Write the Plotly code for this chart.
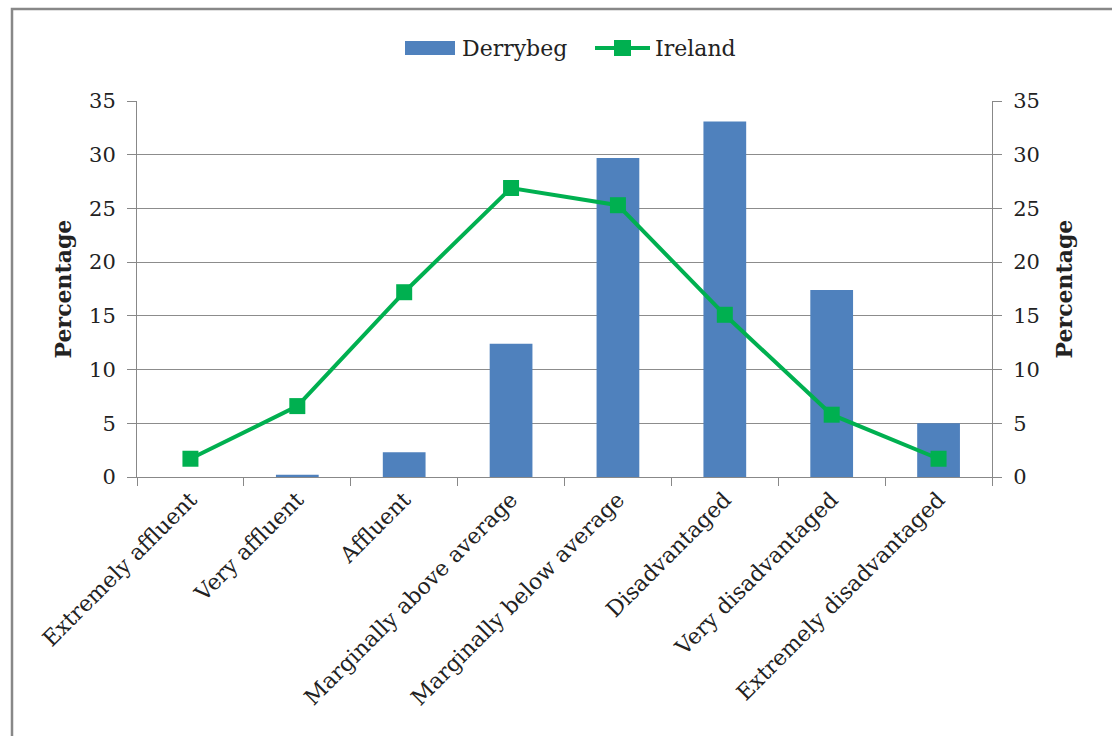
import plotly.graph_objects as go

categories = ["Extremely affluent", "Very affluent", "Affluent", "Marginally above average",
              "Marginally below average", "Disadvantaged", "Very disadvantaged",
              "Extremely disadvantaged"]
derrybeg = [0.0, 0.2, 2.3, 12.4, 29.7, 33.1, 17.4, 5.0]
ireland = [1.7, 6.6, 17.2, 26.9, 25.3, 15.1, 5.8, 1.7]
y_ticks = [0, 5, 10, 15, 20, 25, 30, 35]
series_names = ["Derrybeg", "Ireland"]

FONT = "DejaVu Serif"
BLUE, GREEN = "#4F81BD", "#00B050"
W, H = 1112, 736
L, R, T, B = 137, 120, 101, 259
pw, ph = W - L - R, H - T - B

def px(x):
    return (x - L) / pw

def py(y):
    return (H - B - y) / ph

fig = go.Figure()
fig.add_trace(go.Bar(x=categories, y=derrybeg, name=series_names[0], showlegend=False,
                     marker=dict(color=BLUE, line=dict(width=0))))
fig.add_trace(go.Scatter(x=categories, y=ireland, name=series_names[1], yaxis="y2",
                         mode="lines+markers", showlegend=False,
                         line=dict(color=GREEN, width=4),
                         marker=dict(symbol="square", size=16, color=GREEN)))

axis_common = dict(range=[0, 35], tickvals=y_ticks, ticks="outside", ticklen=9,
                   tickcolor="#888888", showline=True, linecolor="#888888", linewidth=1,
                   ticklabelstandoff=7,
                   tickfont=dict(family=FONT, size=21, color="#222222"))

fig.update_layout(
    width=W, height=H,
    margin=dict(l=L, r=R, t=T, b=B, autoexpand=False),
    paper_bgcolor="white", plot_bgcolor="white",
    bargap=0.6,
    font=dict(family=FONT, color="#222222"),
    xaxis=dict(tickangle=-45, tickson="boundaries", ticks="outside", ticklen=8,
               tickcolor="#888888", showline=True, linecolor="#888888", linewidth=1,
               tickfont=dict(family=FONT, size=22, color="#222222"), showgrid=False),
    yaxis=dict(**axis_common, showgrid=True, gridcolor="#8c8c8c", gridwidth=1,
               title=dict(text="<b>Percentage</b>", font=dict(family=FONT, size=22), standoff=11)),
    yaxis2=dict(**axis_common, overlaying="y", side="right", showgrid=False,
                title=dict(text="<b>Percentage</b>", font=dict(family=FONT, size=22), standoff=17)),
    showlegend=False,
)

# outer chart frame
fig.add_shape(type="rect", xref="paper", yref="paper",
              x0=px(12), x1=px(1125), y0=py(760), y1=py(9),
              line=dict(color="#888888", width=2.5), fillcolor="rgba(0,0,0,0)", layer="below")

# custom legend (wide swatches like the reference)
fig.add_shape(type="rect", xref="paper", yref="paper",
              x0=px(405), x1=px(455), y0=py(55), y1=py(41),
              line=dict(width=0), fillcolor=BLUE)
fig.add_annotation(xref="paper", yref="paper", x=px(460), y=py(48), xanchor="left",
                   yanchor="middle", showarrow=False, text=series_names[0],
                   font=dict(family=FONT, size=22, color="#222222"))
fig.add_shape(type="line", xref="paper", yref="paper",
              x0=px(595), x1=px(650), y0=py(48), y1=py(48),
              line=dict(color=GREEN, width=4))
fig.add_shape(type="rect", xref="paper", yref="paper",
              x0=px(614), x1=px(631), y0=py(56), y1=py(40),
              line=dict(width=0), fillcolor=GREEN)
fig.add_annotation(xref="paper", yref="paper", x=px(653), y=py(48), xanchor="left",
                   yanchor="middle", showarrow=False, text=series_names[1],
                   font=dict(family=FONT, size=22, color="#222222"))

fig.write_html("out.html")
